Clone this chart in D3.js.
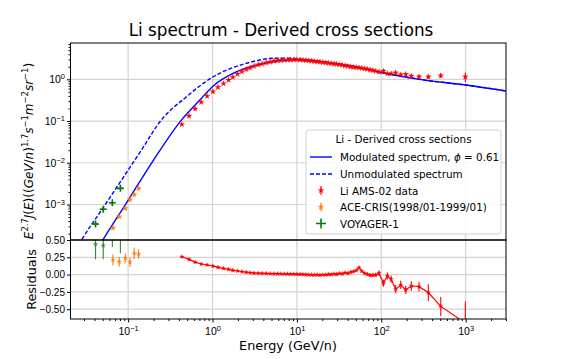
<!DOCTYPE html>
<html>
<head>
    <meta charset="utf-8">
    <title>Li spectrum - Derived cross sections</title>
    <script src="https://d3js.org/d3.v7.min.js"></script>
    <style>
        body { margin: 0; background: #fff; }
        svg { font-family: "DejaVu Sans", sans-serif; }
        .grid line { stroke: #d3d3d3; stroke-width: 1.2; }
        .axis .domain { display: none; }
        .axis line { stroke: #000; }
        .axis text { font-size: 10.5px; fill: #000; }
    </style>
</head>
<body>
<div id="chart"></div>
<script>
    // AMS-02 Li data (GeV/n, E^2.7 flux)
    const amsEnergy = [0.433, 0.527, 0.622, 0.733, 0.863, 1.01, 1.16, 1.35, 1.55, 1.74, 1.98, 2.23, 2.51, 2.79, 3.11, 3.48, 3.87, 4.33, 4.82,
        5.35, 5.89, 6.46, 7.08, 7.74, 8.45, 9.20, 10.0, 10.9, 11.8, 12.8, 13.8, 14.9, 16.1, 17.4, 18.8, 20.3, 21.9, 23.6, 25.5,
        27.5, 29.6, 32.0, 34.5, 37.2, 40.2, 43.4, 46.8, 50.5, 54.5, 58.7, 63.4, 68.4, 73.8, 79.6, 85.9,
        94, 106, 118, 131, 148, 170, 195, 227, 280, 361, 507, 990];
    const amsFlux = [0.083, 0.132, 0.196, 0.283, 0.394, 0.507, 0.645, 0.786, 0.96, 1.13, 1.34, 1.52, 1.73, 1.89, 2.07, 2.23, 2.35, 2.49, 2.62,
        2.74, 2.80, 2.85, 2.89, 2.92, 2.94, 2.95, 2.95, 2.93, 2.90, 2.86, 2.81, 2.75, 2.70, 2.65, 2.60, 2.55, 2.50, 2.45, 2.40,
        2.35, 2.30, 2.24, 2.18, 2.12, 2.06, 2.00, 1.95, 1.92, 1.90, 1.86, 1.80, 1.75, 1.69, 1.63, 1.57,
        1.49, 1.58, 1.36, 1.36, 1.44, 1.29, 1.32, 1.20, 1.15, 1.15, 1.22, 1.15];
    const amsFluxErr = [0.003, 0.004, 0.005, 0.007, 0.009, 0.011, 0.014, 0.017, 0.02, 0.024, 0.028, 0.032, 0.036, 0.04, 0.044, 0.047, 0.05, 0.053, 0.056,
        0.058, 0.059, 0.06, 0.061, 0.062, 0.062, 0.063, 0.063, 0.063, 0.062, 0.062, 0.061, 0.06, 0.06, 0.059, 0.058, 0.058, 0.057, 0.056, 0.056,
        0.055, 0.055, 0.054, 0.054, 0.053, 0.053, 0.052, 0.052, 0.052, 0.052, 0.052, 0.052, 0.052, 0.052, 0.053, 0.054,
        0.06, 0.07, 0.07, 0.07, 0.08, 0.08, 0.09, 0.09, 0.1, 0.12, 0.15, 0.3];
    const amsResid = [0.258, 0.22, 0.18, 0.153, 0.139, 0.124, 0.105, 0.09, 0.076, 0.062, 0.052, 0.042, 0.033, 0.027, 0.022, 0.019, 0.017, 0.015, 0.013,
        0.012, 0.011, 0.010, 0.009, 0.008, 0.007, 0.006, 0.005, 0.004, 0.002, 0.000, -0.002, -0.003, -0.005, -0.003, -0.008, -0.002, -0.004, 0.004, 0.000,
        0.010, 0.004, 0.018, 0.010, 0.027, 0.018, 0.035, 0.045, 0.060, 0.100, 0.050, 0.020, 0.005, -0.010, -0.008, -0.004,
        0.019, -0.126, -0.02, -0.068, -0.21, -0.15, -0.22, -0.165, -0.175, -0.26, -0.46, -0.70];
    const amsResidErr = [0.008, 0.008, 0.008, 0.008, 0.008, 0.008, 0.008, 0.008, 0.008, 0.008, 0.008, 0.008, 0.008, 0.008, 0.008, 0.008, 0.008, 0.008, 0.008,
        0.01, 0.01, 0.01, 0.01, 0.01, 0.01, 0.01, 0.01, 0.01, 0.01, 0.01, 0.01, 0.01, 0.01, 0.01, 0.01, 0.012, 0.012, 0.012, 0.012,
        0.012, 0.012, 0.013, 0.013, 0.013, 0.014, 0.014, 0.015, 0.015, 0.016, 0.017, 0.018, 0.019, 0.02, 0.022, 0.024,
        0.04, 0.05, 0.05, 0.05, 0.06, 0.06, 0.06, 0.07, 0.07, 0.12, 0.14, 0.31];

    // ACE-CRIS (1998/01-1999/01)
    const aceEnergy = [0.066, 0.0785, 0.0925, 0.105, 0.118, 0.133];
    const aceFlux = [2.75e-4, 5.1e-4, 8.1e-4, 1.31e-3, 1.73e-3, 2.44e-3];
    const aceFluxErr = [2.5e-5, 4.5e-5, 7e-5, 1.1e-4, 1.5e-4, 2.1e-4];
    const aceResid = [0.21, 0.186, 0.235, 0.178, 0.307, 0.298];
    const aceResidErr = [0.08, 0.07, 0.07, 0.07, 0.08, 0.07];

    // VOYAGER-1
    const voyEnergy = [0.0411, 0.0507, 0.065, 0.081];
    const voyEnergyErr = [0.003, 0.004, 0.005, 0.006];
    const voyFlux = [3.4e-4, 7.7e-4, 1.10e-3, 2.44e-3];
    const voyFluxErr = [4e-5, 8e-5, 1.2e-4, 2.5e-4];
    const voyResid = [0.44, 0.42, 0.55, 0.56];
    const voyResidErr = [0.22, 0.2, 0.15, 0.25];

    // model curves
    const modEnergy = [0.045, 0.05, 0.1, 0.2, 0.425, 0.707, 1.02, 1.93, 3.64, 7.54, 10, 20, 30, 50, 100, 300, 1000, 3100];
    const modFlux = [1.0e-4, 1.41e-4, 1.26e-3, 0.0116, 0.104, 0.319, 0.69, 1.52, 2.29, 2.90, 2.95, 2.65, 2.35, 2.0, 1.46, 0.98, 0.73, 0.52];
    const unmodEnergy = [0.026, 0.028, 0.05, 0.1, 0.144, 0.237, 0.492, 1.02, 2.53, 5.2, 7, 10, 15, 20, 30, 50, 100, 300, 1000, 3100];
    const unmodFlux = [1.1e-4, 1.41e-4, 8.1e-4, 6.67e-3, 0.0202, 0.095, 0.383, 1.15, 2.42, 3.19, 3.22, 3.12, 2.85, 2.65, 2.35, 2.0, 1.46, 0.98, 0.73, 0.52];

    // ticks
    const xMajor = [0.1, 1, 10, 100, 1000];
    const yMajor = [1e-3, 1e-2, 1e-1, 1];
    const residTicks = [0.5, 0.25, 0, -0.25, -0.5];

    // layout
    const W = 563, H = 359;
    const pLeft = 70.5, pRight = 506, pTop = 43, pMid = 240, pBottom = 319;

    const svg = d3.select("#chart").append("svg")
        .attr("width", W).attr("height", H);

    const x = d3.scaleLog().domain([0.02075, 3006]).range([pLeft, pRight]);
    const y = d3.scaleLog().domain([1.41e-4, 7.41]).range([pMid, pTop]);
    const yr = d3.scaleLinear().domain([-0.642, 0.5]).range([pBottom, pMid]);

    const xMinor = x.ticks().filter(v => !xMajor.includes(v));
    const yMinor = y.ticks().filter(v => !yMajor.includes(v));

    const defs = svg.append("defs");
    defs.append("clipPath").attr("id", "clipTop").append("rect")
        .attr("x", pLeft).attr("y", pTop).attr("width", pRight - pLeft).attr("height", pMid - pTop);
    defs.append("clipPath").attr("id", "clipBot").append("rect")
        .attr("x", pLeft).attr("y", pMid).attr("width", pRight - pLeft).attr("height", pBottom - pMid);

    // grids
    const grid = svg.append("g").attr("class", "grid");
    xMajor.forEach(v => {
        grid.append("line").attr("x1", x(v)).attr("x2", x(v)).attr("y1", pTop).attr("y2", pMid);
        grid.append("line").attr("x1", x(v)).attr("x2", x(v)).attr("y1", pMid).attr("y2", pBottom);
    });
    yMajor.forEach(v => {
        grid.append("line").attr("x1", pLeft).attr("x2", pRight).attr("y1", y(v)).attr("y2", y(v));
    });
    residTicks.forEach(v => {
        grid.append("line").attr("x1", pLeft).attr("x2", pRight).attr("y1", yr(v)).attr("y2", yr(v));
    });

    // superscript power-of-ten labels
    function powLabel(sel) {
        sel.each(function(d) {
            const e = Math.round(Math.log10(d));
            const t = d3.select(this).text(null);
            t.append("tspan").text("10");
            t.append("tspan").attr("dy", "-0.5em").attr("font-size", "7.5px")
                .text(e < 0 ? "\u2212" + (-e) : e);
        });
    }

    // axes
    svg.append("g").attr("class", "axis")
        .attr("transform", `translate(0,${pBottom})`)
        .call(d3.axisBottom(x).tickValues(xMinor).tickSize(2).tickFormat(""));
    svg.append("g").attr("class", "axis")
        .attr("transform", `translate(0,${pBottom})`)
        .call(d3.axisBottom(x).tickValues(xMajor).tickSize(3.5).tickPadding(5).tickFormat(d => d))
        .selectAll(".tick text").call(powLabel);

    svg.append("g").attr("class", "axis")
        .attr("transform", `translate(${pLeft},0)`)
        .call(d3.axisLeft(y).tickValues(yMinor).tickSize(2).tickFormat(""));
    svg.append("g").attr("class", "axis")
        .attr("transform", `translate(${pLeft},0)`)
        .call(d3.axisLeft(y).tickValues(yMajor).tickSize(3.5).tickPadding(2).tickFormat(d => d))
        .selectAll(".tick text").call(powLabel);

    svg.append("g").attr("class", "axis")
        .attr("transform", `translate(${pLeft},0)`)
        .call(d3.axisLeft(yr).tickValues(residTicks).tickSize(3.5).tickPadding(2).tickFormat(d3.format(".2f")))
        .selectAll(".tick text").style("font-size", "10px");

    // curves
    const upper = svg.append("g").attr("clip-path", "url(#clipTop)");
    const curve = (ex, fx) => d3.line()
        .x(i => x(ex[i])).y(i => y(fx[i]))
        .curve(d3.curveMonotoneX)(d3.range(ex.length));

    upper.append("path").attr("d", curve(unmodEnergy, unmodFlux))
        .attr("fill", "none").attr("stroke", "#0000ff").attr("stroke-width", 1.4)
        .attr("stroke-dasharray", "4,2");
    upper.append("path").attr("d", curve(modEnergy, modFlux))
        .attr("fill", "none").attr("stroke", "#0000ff").attr("stroke-width", 1.4);

    const star = d3.symbol(d3.symbolStar, 10)();
    const starSmall = d3.symbol(d3.symbolStar, 6)();
    const plus = "M-3.5,0H3.5M0,-3.5V3.5";

    function errPoints(g, ex, fx, er, sy, color, marker) {
        ex.forEach((e, i) => {
            g.append("line")
                .attr("x1", x(e)).attr("x2", x(e))
                .attr("y1", sy(fx[i] - er[i])).attr("y2", sy(fx[i] + er[i]))
                .attr("stroke", color).attr("stroke-width", 1.1);
            g.append("path").attr("d", marker)
                .attr("transform", `translate(${x(e)},${sy(fx[i])})`)
                .attr("fill", color).attr("stroke", color).attr("stroke-width", 0.3);
        });
    }

    errPoints(upper, amsEnergy, amsFlux, amsFluxErr, y, "#ff0000", star);
    errPoints(upper, aceEnergy, aceFlux, aceFluxErr, y, "#ff7f0e", star);

    // voyager: cross markers with energy and flux bars
    voyEnergy.forEach((e, i) => {
        upper.append("line")
            .attr("x1", x(e - voyEnergyErr[i])).attr("x2", x(e + voyEnergyErr[i]))
            .attr("y1", y(voyFlux[i])).attr("y2", y(voyFlux[i]))
            .attr("stroke", "#008000").attr("stroke-width", 1.2);
        upper.append("line")
            .attr("x1", x(e)).attr("x2", x(e))
            .attr("y1", y(voyFlux[i] - voyFluxErr[i])).attr("y2", y(voyFlux[i] + voyFluxErr[i]))
            .attr("stroke", "#008000").attr("stroke-width", 1.2);
        upper.append("path").attr("d", plus)
            .attr("transform", `translate(${x(e)},${y(voyFlux[i])})`)
            .attr("stroke", "#008000").attr("stroke-width", 1.6);
    });

    // residual panel
    const lower = svg.append("g").attr("clip-path", "url(#clipBot)");
    lower.append("path")
        .attr("d", d3.line().x(i => x(amsEnergy[i])).y(i => yr(amsResid[i]))(d3.range(amsEnergy.length)))
        .attr("fill", "none").attr("stroke", "#ff0000").attr("stroke-width", 1.2);
    errPoints(lower, amsEnergy, amsResid, amsResidErr, yr, "#ff0000", starSmall);
    errPoints(lower, aceEnergy, aceResid, aceResidErr, yr, "#ff7f0e", starSmall);
    errPoints(lower, voyEnergy, voyResid, voyResidErr, yr, "#2e8b2e", starSmall);

    // frames
    svg.append("rect").attr("x", pLeft).attr("y", pTop).attr("width", pRight - pLeft).attr("height", pMid - pTop)
        .attr("fill", "none").attr("stroke", "#000").attr("stroke-width", 1);
    svg.append("rect").attr("x", pLeft).attr("y", pMid).attr("width", pRight - pLeft).attr("height", pBottom - pMid)
        .attr("fill", "none").attr("stroke", "#000").attr("stroke-width", 1);

    // title and axis labels
    svg.append("text").attr("x", 281).attr("y", 36).attr("text-anchor", "middle")
        .attr("font-size", "16.8px").text("Li spectrum - Derived cross sections");

    svg.append("text").attr("x", 288).attr("y", 350).attr("text-anchor", "middle")
        .attr("font-size", "12.8px").text("Energy (GeV/n)");

    svg.append("text").attr("transform", "translate(36,279.5) rotate(-90)")
        .attr("text-anchor", "middle").attr("font-size", "12.8px").text("Residuals");

    const yLabelParts = [["E", "i"], ["2.7", "s"], ["J", "i"], ["(", "n"], ["E", "i"], [")((", "n"], ["GeV", "i"], ["/", "n"],
        ["n", "i"], [")", "n"], ["1.7", "s"], ["s", "i"], ["\u22121", "s"], ["m", "i"], ["\u22122", "s"], ["sr", "i"],
        ["\u22121", "s"], [")", "n"]];
    const yl = svg.append("text").attr("transform", "translate(33,151) rotate(-90)")
        .attr("text-anchor", "middle").attr("font-size", "12px");
    let raised = false;
    yLabelParts.forEach(([s, k]) => {
        const t = yl.append("tspan").text(s);
        if (k === "s") {
            t.attr("font-size", "8.4px");
            if (!raised) t.attr("dy", -5);
            raised = true;
        } else {
            if (raised) t.attr("dy", 5);
            raised = false;
            if (k === "i") t.attr("font-style", "italic");
        }
    });

    // legend
    const lg = svg.append("g").attr("font-size", "10.4px");
    lg.append("rect").attr("x", 306).attr("y", 130).attr("width", 195).attr("height", 104)
        .attr("rx", 2.5).attr("fill", "#fff").attr("fill-opacity", 0.85)
        .attr("stroke", "#d0d0d0").attr("stroke-width", 1);
    lg.append("text").attr("x", 403.5).attr("y", 143).attr("text-anchor", "middle")
        .text("Li - Derived cross sections");

    const rows = [157, 174, 190.5, 207, 223.5];
    lg.append("line").attr("x1", 310).attr("x2", 332).attr("y1", rows[0]).attr("y2", rows[0])
        .attr("stroke", "#0000ff").attr("stroke-width", 1.4);
    lg.append("line").attr("x1", 310).attr("x2", 332).attr("y1", rows[1]).attr("y2", rows[1])
        .attr("stroke", "#0000ff").attr("stroke-width", 1.4).attr("stroke-dasharray", "4,2");
    [["#ff0000", rows[2]], ["#ff7f0e", rows[3]]].forEach(([c, ry]) => {
        lg.append("line").attr("x1", 321).attr("x2", 321).attr("y1", ry - 4.5).attr("y2", ry + 4.5)
            .attr("stroke", c).attr("stroke-width", 1.1);
        lg.append("path").attr("d", star).attr("transform", `translate(321,${ry})`)
            .attr("fill", c).attr("stroke", c).attr("stroke-width", 0.3);
    });
    lg.append("path").attr("d", "M-5,0H5M0,-5V5").attr("transform", `translate(321,${rows[4]})`)
        .attr("stroke", "#008000").attr("stroke-width", 1.6);

    const l1 = lg.append("text").attr("x", 340).attr("y", rows[0] + 4);
    l1.append("tspan").text("Modulated spectrum, ");
    l1.append("tspan").attr("font-style", "italic").text("\u03d5");
    l1.append("tspan").text(" = 0.61");
    lg.append("text").attr("x", 340).attr("y", rows[1] + 4).text("Unmodulated spectrum");
    lg.append("text").attr("x", 340).attr("y", rows[2] + 4).text("Li AMS-02 data");
    lg.append("text").attr("x", 340).attr("y", rows[3] + 4).text("ACE-CRIS(1998/01-1999/01)");
    lg.append("text").attr("x", 340).attr("y", rows[4] + 4).text("VOYAGER-1");
</script>
</body>
</html>
